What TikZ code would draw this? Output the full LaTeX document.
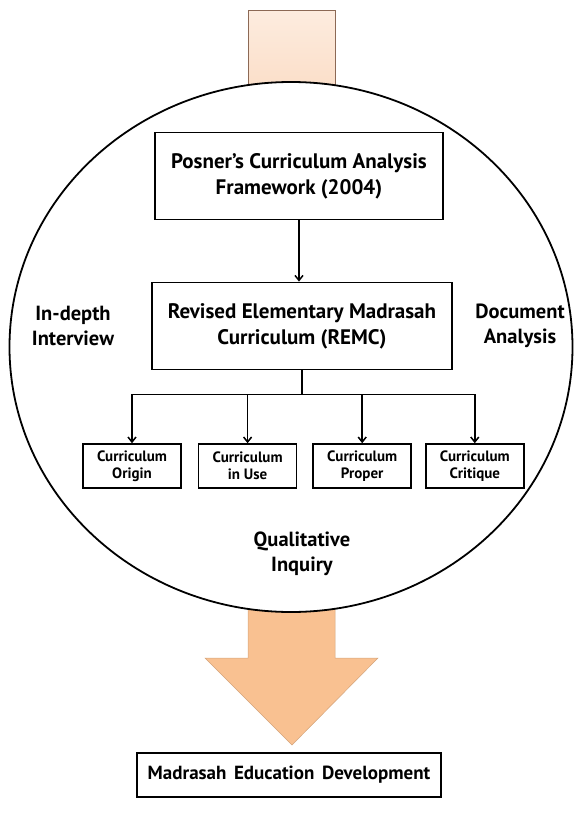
\documentclass[tikz,border=0pt]{standalone}
\usepackage{fontspec}
\setmainfont{PT Sans}
\usetikzlibrary{shapes.geometric, arrows.meta}
\usetikzlibrary{positioning}
\definecolor{peachlight}{RGB}{253,236,223}
\definecolor{peachmid}{RGB}{251,222,200}
\definecolor{peach}{RGB}{249,193,145}
\definecolor{peachedge}{RGB}{140,105,85}

\begin{document}
\begin{tikzpicture}[x=1pt,y=-1pt,
bigbox/.style={draw, line width=1.8pt, minimum width=288pt, minimum height=87pt, align=center, font=\fontsize{21}{26}\selectfont\bfseries},
smallbox/.style={draw, line width=1.6pt, minimum width=98pt, minimum height=44pt, inner sep=2pt, align=center, font=\fontsize{15}{17}\selectfont\bfseries},
sidelabel/.style={align=center, font=\fontsize{20.5}{25}\selectfont\bfseries},
link/.style={-{Straight Barb[length=5pt,width=8pt]}, line width=1.5pt},
]
\useasboundingbox (0,0) rectangle (577,817);

%Flow in and out
\node[draw=peachedge, line width=0.6pt, top color=peachlight, bottom color=peachmid, minimum width=87pt, minimum height=80pt] (inflow) at (291.5,50) {};
\fill[peach, draw=peach!85!black, line width=0.5pt] (248,600) -- (335,600) -- (335,658) -- (378,658) -- (292,745) -- (205,658) -- (248,658) -- cycle;

%Frame
\node[draw, ellipse, fill=white, line width=1.8pt, minimum width=563pt, minimum height=530pt] (frame) at (291,347) {};

%Nodes
\node[bigbox] (posner_node) at (299,176) {Posner's Curriculum Analysis\\Framework (2004)};
\node[bigbox, minimum width=300pt] (remc_node) at (302,326) {Revised Elementary Madrasah\\Curriculum (REMC)};

\node[smallbox] (origin_node) at (132,466) {Curriculum\\Origin};
\node[smallbox] (use_node)      [right=16pt of origin_node] {Curriculum\\in Use};
\node[smallbox] (proper_node)   [right=15pt of use_node] {Curriculum\\Proper};
\node[smallbox] (critique_node) [right=13pt of proper_node] {Curriculum\\Critique};

\node[sidelabel] (interview_node) at (73,326) {In-depth\\Interview};
\node[sidelabel] (document_node)  at (520,326) {Document\\Analysis};
\node[sidelabel] (inquiry_node)   at (302,554) {Qualitative\\Inquiry};

\node[draw, line width=1.8pt, minimum width=304pt, minimum height=44pt, font=\fontsize{19}{23}\selectfont\bfseries] (outcome_node) at (289,775) {Madrasah\hspace{0.4em}Education\hspace{0.4em}Development};

%Lines
\draw[link] (posner_node.south) -- (posner_node.south |- remc_node.north);
\draw[line width=1.5pt] (remc_node.south) -- ++(0,24) coordinate (split);
\foreach \b in {origin_node, use_node, proper_node, critique_node}
  \draw[link] (split) -| (\b.north);

\end{tikzpicture}
\end{document}
